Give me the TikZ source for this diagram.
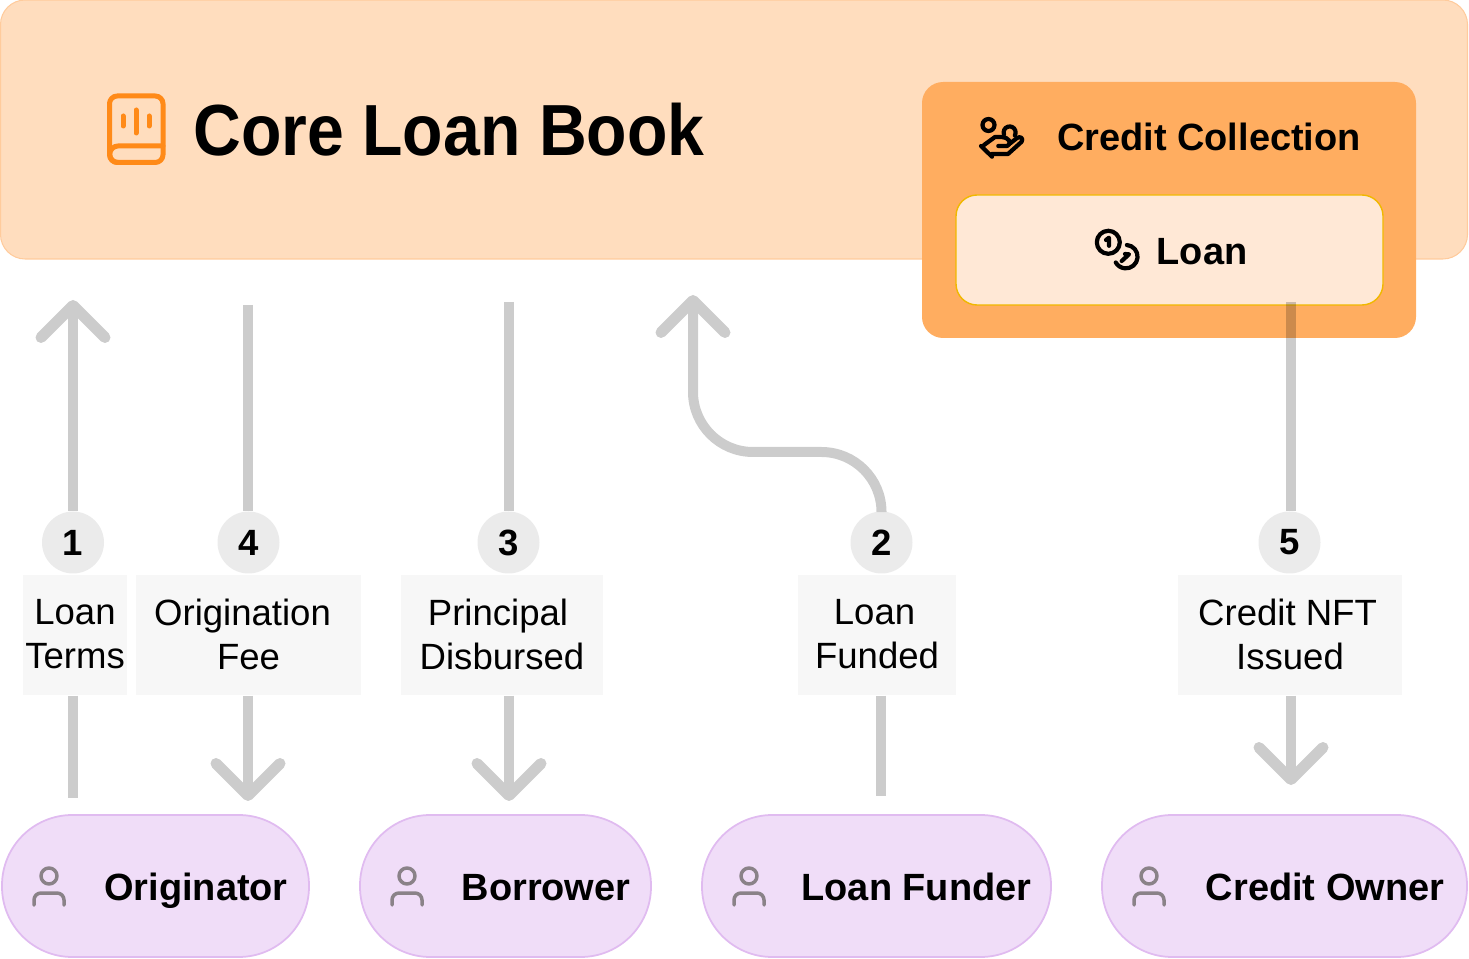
\documentclass[tikz,border=0pt]{standalone}
\usepackage{fontspec}
\setmainfont{Liberation Sans}
\newfontfamily\titlefont[FakeStretch=0.914]{Liberation Sans}
\usetikzlibrary{arrows.meta}
\definecolor{corefill}{HTML}{FFDDBE}
\definecolor{coreline}{HTML}{FFCB9C}
\definecolor{creditfill}{HTML}{FFAD60}
\definecolor{loanfill}{HTML}{FFE8D6}
\definecolor{loanline}{HTML}{F0B800}
\definecolor{actorfill}{HTML}{F0DDF8}
\definecolor{actorline}{HTML}{E0BBF0}
\definecolor{badgefill}{HTML}{EBEBEB}
\definecolor{stepfill}{HTML}{F7F7F7}
\definecolor{flow}{HTML}{CCCCCC}
\definecolor{bookicon}{HTML}{FF8A18}
\definecolor{personicon}{HTML}{8A8288}
\tikzset{
  corebox/.style={rounded corners=7pt, draw=coreline, line width=0.3pt, fill=corefill, minimum width=14.67cm, minimum height=2.59cm},
  creditbox/.style={rounded corners=6pt, fill=creditfill, minimum width=4.94cm, minimum height=2.56cm},
  loanbox/.style={rounded corners=6pt, draw=loanline, line width=0.4pt, fill=loanfill, minimum width=4.27cm, minimum height=1.10cm},
  actor/.style={rounded corners=20pt, draw=actorline, line width=0.5pt, fill=actorfill, minimum height=1.42cm},
  badge/.style={circle, fill=badgefill, minimum size=0.62cm, inner sep=0pt, font=\fontsize{10.4}{12}\selectfont\bfseries},
  stepbox/.style={fill=stepfill, minimum height=1.20cm, inner sep=0pt, align=center, font=\fontsize{10.4}{12.5}\selectfont, execute at begin node=\rule{0pt}{7.6pt}, execute at end node=\rule[-0.4pt]{0pt}{0.4pt}},
  heading/.style={font=\titlefont\fontsize{20.6}{24}\selectfont\bfseries},
  boxlabel/.style={font=\fontsize{10.8}{13}\selectfont\bfseries, text height=7.7pt, text depth=0pt},
  flowline/.style={draw=flow, line width=1mm},
  flowarrow/.style={flowline, -{Straight Barb[length=3.2mm, width=6.4mm, round, line width=1.1mm]}},
  iconline/.style={line width=0.35mm, line cap=round, line join=round}
}
\newcommand{\actoricon}[1]{%
  \begin{scope}[shift={(#1)}, iconline, draw=personicon]
    \draw (0,0.10) circle (0.08);
    \draw (-0.15,-0.19) -- (-0.15,-0.14) arc[start angle=180, end angle=90, radius=0.07] -- (0.08,-0.07) arc[start angle=90, end angle=0, radius=0.07] -- (0.15,-0.19);
  \end{scope}
}

\begin{document}
\begin{tikzpicture}[x=1cm,y=1cm]
\useasboundingbox (0,0) rectangle (14.69,9.58);

\node[corebox] (core) at (7.34,8.285) {};
\node[creditbox] (credit) at (11.69,7.48) {};
\node[loanbox] (loan) at (11.695,7.08) {};
\node[heading] (coretitle) at (4.49,8.28) {Core Loan Book};
\node[boxlabel] (credittitle) at (12.09,8.21) {Credit Collection};
\node[boxlabel] (loantitle) at (12.02,7.07) {Loan};

% book icon
\begin{scope}[line width=0.5mm, draw=bookicon, line cap=round, line join=round]
  \draw[rounded corners=2.2pt] (1.095,7.955) rectangle (1.63,8.62);
  \draw (1.63,8.12) -- (1.18,8.12) arc[start angle=90, end angle=270, radius=0.0825];
  \draw (1.23,8.32) -- (1.23,8.42);
  \draw (1.36,8.25) -- (1.36,8.48);
  \draw (1.49,8.32) -- (1.49,8.42);
\end{scope}

% hand icon
\begin{scope}[iconline, line width=0.42mm, draw=black]
  \draw (9.885,8.33) circle (0.06);
  \draw (10.04,8.235) arc[start angle=200, end angle=-30, radius=0.06];
  \draw (9.81,8.12) -- (9.92,8.013);
  \draw (9.84,8.13) -- (9.95,8.21) -- (10.017,8.21) .. controls (10.08,8.21) and (10.13,8.15) .. (10.07,8.12) -- (9.983,8.12);
  \draw (9.917,8.04) -- (10.08,8.04) -- (10.215,8.161) .. controls (10.24,8.20) and (10.20,8.22) .. (10.17,8.20) -- (10.10,8.145);
\end{scope}

% coins icon
\begin{scope}[iconline, line width=0.42mm, draw=black]
  \draw (11.083,7.157) circle (0.115);
  \draw (11.06,7.18) -- (11.09,7.203) -- (11.09,7.122);
  \draw (11.269,7.13) arc[start angle=85, end angle=-150, radius=0.117];
  \draw (11.217,6.97) -- (11.29,7.037) -- (11.25,7.04);
\end{scope}

% parties
\foreach \name/\xc/\pillw/\xl/\xi/\txt in {orig/1.555/3.07/1.96/0.49/Originator,borrow/5.055/2.91/5.46/4.07/Borrower,funder/8.765/3.49/9.165/7.49/Loan Funder,owner/12.845/3.65/13.25/11.49/Credit Owner}{
  \node[actor, minimum width=\pillw cm] (\name) at (\xc,0.72) {};
  \node[boxlabel] (\name label) at (\xl,0.715) {\txt};
  \actoricon{\xi,0.72}
}

% steps
\foreach \name/\x/\n in {badgea/0.73/1,badged/2.485/4,badgec/5.085/3,badgeb/8.815/2,badgee/12.895/5}
  \node[badge] (\name) at (\x,4.155) {\n};
\node[stepbox, minimum width=1.04cm] (terms) at (0.75,3.23) {Loan\\Terms};
\node[stepbox, minimum width=2.25cm] (fee) at (2.485,3.23) {Origination\hspace*{3.4pt}\\Fee};
\node[stepbox, minimum width=2.02cm] (principal) at (5.02,3.23) {Principal\hspace*{2.3pt}\\Disbursed};
\node[stepbox, minimum width=1.58cm] (funded) at (8.77,3.23) {Loan\hspace*{1.4pt}\\Funded};
\node[stepbox, minimum width=2.24cm] (issued) at (12.90,3.23) {Credit NFT\hspace*{1.4pt}\\Issued};

\coordinate (tipa) at (0.73,6.58);
\coordinate (taila) at (0.73,1.60);
\coordinate (topd) at (2.48,6.53);
\coordinate (tipd) at (2.48,1.57);
\coordinate (topc) at (5.09,6.56);
\coordinate (tipc) at (5.09,1.57);
\coordinate (tipb) at (6.93,6.63);
\coordinate (bendb) at (6.93,5.06);
\coordinate (tailb) at (8.81,1.62);
\coordinate (tope) at (12.91,6.56);
\coordinate (tipe) at (12.91,1.73);

\draw[flowarrow] (badgea.north) -- (tipa);
\draw[flowline] (terms.south -| taila) -- (taila);
\draw[flowline] (topd) -- (badged.north -| topd);
\draw[flowarrow] (fee.south -| tipd) -- (tipd);
\draw[flowline] (topc) -- (badgec.north -| topc);
\draw[flowarrow] (principal.south -| tipc) -- (tipc);
\draw[flowarrow, rounded corners=0.6cm] (badgeb.north) |- (bendb) -- (tipb);
\draw[flowline] (funded.south -| tailb) -- (tailb);
\draw[flowline, blend mode=multiply] (tope) -- (badgee.north -| tope);
\draw[flowarrow] (issued.south -| tipe) -- (tipe);
\end{tikzpicture}
\end{document}
